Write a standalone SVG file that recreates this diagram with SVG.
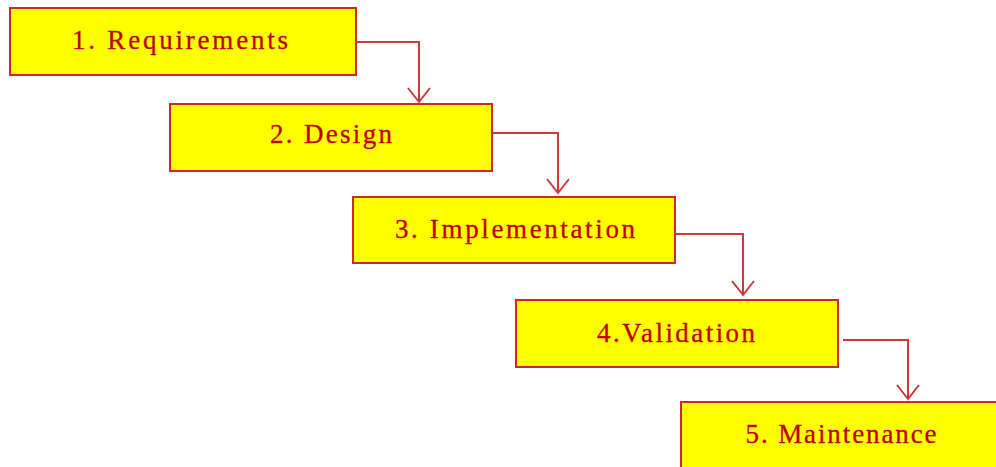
<svg xmlns="http://www.w3.org/2000/svg" width="996" height="467" viewBox="0 0 996 467">
<defs>
<style>
.box{fill:#ffff00;stroke:#cc2a2a;stroke-width:2}
.lbl{font-family:"Liberation Serif","DejaVu Serif",serif;font-size:27px;fill:#c00000;text-anchor:middle;stroke:#c00000;stroke-width:0.3}
.conn{fill:none;stroke:#cc3a3a;stroke-width:2}
.head{fill:none;stroke:#cc3a3a;stroke-width:2}
</style>
</defs>
<rect width="996" height="467" fill="#ffffff"/>
<g id="connectors">
<path class="conn" d="M356 42 H419 V102"/>
<path class="head" d="M408 88 L419 102 L430 88"/>
<path class="conn" d="M492 133 H558 V193"/>
<path class="head" d="M547 179 L558 193 L569 179"/>
<path class="conn" d="M676 234 H743 V295"/>
<path class="head" d="M732 281 L743 295 L754 281"/>
<path class="conn" d="M843 340 H908 V399"/>
<path class="head" d="M897 385 L908 399 L919 385"/>
</g>
<g id="n1">
<rect class="box" x="10" y="8" width="346" height="67"/>
<text class="lbl" x="180" y="49" textLength="216" lengthAdjust="spacing">1. Requirements</text>
</g>
<g id="n2">
<rect class="box" x="170" y="104" width="322" height="67"/>
<text class="lbl" x="331" y="143" textLength="122" lengthAdjust="spacing">2. Design</text>
</g>
<g id="n3">
<rect class="box" x="353" y="197" width="322" height="66"/>
<text class="lbl" x="515" y="238" textLength="240" lengthAdjust="spacing">3. Implementation</text>
</g>
<g id="n4">
<rect class="box" x="516" y="300" width="322" height="67"/>
<text class="lbl" x="676" y="342" textLength="158" lengthAdjust="spacing">4.Validation</text>
</g>
<g id="n5">
<rect class="box" x="681" y="402" width="330" height="80"/>
<text class="lbl" x="841" y="443" textLength="191" lengthAdjust="spacing">5. Maintenance</text>
</g>
</svg>
